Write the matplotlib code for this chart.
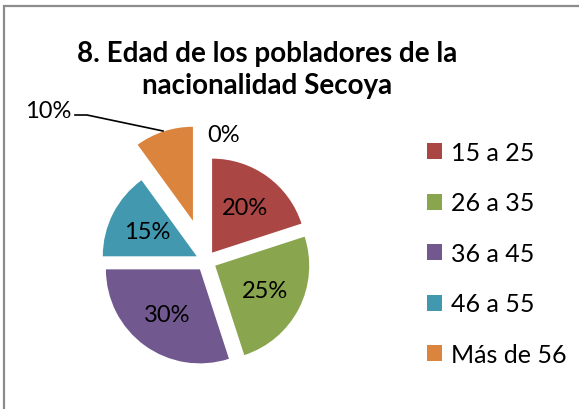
import matplotlib
matplotlib.use("Agg")
import matplotlib.pyplot as plt
from matplotlib.patches import Rectangle

categories = ["15 a 25", "26 a 35", "36 a 45", "46 a 55", "Más de 56"]
values = [20, 25, 30, 15, 10]
colors = ["#AA4643", "#89A54E", "#71588F", "#4198AF", "#DB843D"]
explode = [0.11, 0.11, 0.11, 0.11, 0.45]
title = "8. Edad de los pobladores de la\nnacionalidad Secoya"
extra_label = "0%"

plt.rcParams['font.family'] = ['Lato', 'DejaVu Sans']

W, H = 579, 410
fig = plt.figure(figsize=(W / 100, H / 100), dpi=100)

# frame of the chart area (top and left edges visible)
fig.patches.append(Rectangle((3.5 / W, -0.1), 1.2, 1 - 6.5 / H + 0.1,
                             transform=fig.transFigure, fill=False,
                             edgecolor="#8c8c8c", linewidth=1.6))

# pie axes: 1 data unit = R px, centered at (cx, cy) px (top-origin)
R = 94.0
cx, cy = 206.0, 262.0
a = 1.6
side = 2 * a * R
ax = fig.add_axes([(cx - side / 2) / W, (H - cy - side / 2) / H, side / W, side / H])

wedges, texts, autotexts = ax.pie(
    values, colors=colors, explode=explode, startangle=90, counterclock=False,
    autopct=lambda p: f"{p:.0f}%", pctdistance=0.59,
    wedgeprops=dict(linewidth=0),
    textprops=dict(fontsize=17, color="black"))
ax.set_xlim(-a, a)
ax.set_ylim(-a, a)
ax.set_aspect("equal")
ax.axis("off")

# outside label for the last slice with leader line
autotexts[-1].set_visible(False)
def px(xp, yp):
    return ((xp - cx) / R, (cy - yp) / R)
ax.plot(*zip(px(75, 116), px(87, 116), px(163, 132)), color="black",
        linewidth=1.2, clip_on=False)
lx, ly = px(71, 111)
ax.text(lx, ly, f"{values[-1]}%", ha="right", va="center", fontsize=17,
        clip_on=False)
zx, zy = px(224, 135)
ax.text(zx, zy, extra_label, ha="center", va="center", fontsize=17)

fig.text(267 / W, 1 - 70 / H, title, ha="center", va="center",
         fontsize=20, fontweight="bold", linespacing=1.3)

fig.legend(wedges, categories, loc="upper left",
           bbox_to_anchor=(427 / W, 1 - 142 / H), frameon=False,
           fontsize=18, handlelength=0.6, handleheight=0.6,
           handletextpad=0.35, labelspacing=1.1, borderaxespad=0,
           borderpad=0)

fig.savefig("out.png", dpi=100)
